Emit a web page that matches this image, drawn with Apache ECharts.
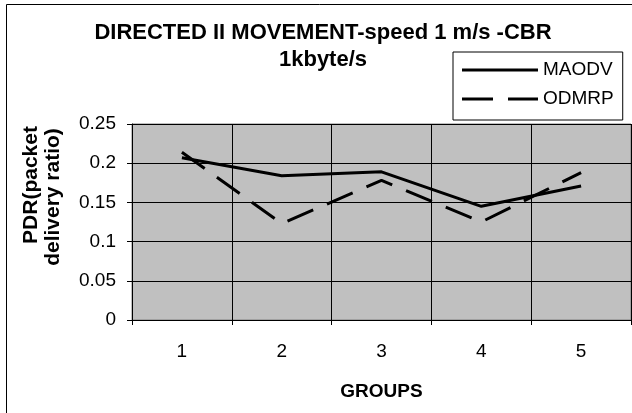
<!DOCTYPE html>
<html><head><meta charset="utf-8">
<script src="https://cdn.jsdelivr.net/npm/echarts@6/dist/echarts.min.js"></script>
<style>html,body{margin:0;padding:0;background:#fff}#c{width:632px;height:413px}</style>
</head><body><div id="c"></div>
<script>
const categories = ['1', '2', '3', '4', '5'];
const maodv = [0.207, 0.184, 0.189, 0.145, 0.171];
const odmrp = [0.214, 0.123, 0.178, 0.125, 0.188];
const yTicks = [0, 0.05, 0.1, 0.15, 0.2, 0.25];
const seriesNames = ['MAODV', 'ODMRP'];
const titleLines = ['DIRECTED II MOVEMENT-speed 1 m/s -CBR', '1kbyte/s'];
const yTitleLines = ['PDR(packet', 'delivery ratio)'];

const chart = echarts.init(document.getElementById('c'), null, {renderer: 'canvas'});
const F = 'Liberation Sans, Arial, sans-serif';
function txt(text, x, y, size, bold, rot) {
  return {type: 'text', x: x, y: y, rotation: rot || 0, silent: true, z: 10,
    style: {text: text, font: (bold ? 'bold ' : '') + size + 'px ' + F, fill: '#000',
      align: 'center', verticalAlign: 'middle', textAlign: 'center', textVerticalAlign: 'middle'}};
}
chart.setOption({
  animation: false,
  backgroundColor: '#fff',
  legend: {
    show: true, left: 453, top: 52, orient: 'vertical', itemGap: 9,
    padding: [8, 9, 11, 9], backgroundColor: '#fff', borderColor: '#000', borderWidth: 1, borderRadius: 0,
    itemWidth: 76, itemHeight: 3,
    textStyle: {fontFamily: F, fontSize: 19, color: '#000', lineHeight: 20},
    itemStyle: {color: '#000', borderWidth: 0},
    data: [
      {name: seriesNames[0], icon: 'path://M0,0H76V3H0Z', itemStyle: {color: '#000', borderWidth: 0}},
      {name: seriesNames[1], icon: 'path://M0,0H31V3H0Z M46,0H76V3H46Z', itemStyle: {color: '#000', borderWidth: 0}}
    ]
  },
  grid: {left: 132, right: 1, top: 124, bottom: 93, show: true, backgroundColor: '#c0c0c0', borderColor: '#808080', borderWidth: 1},
  xAxis: {
    type: 'category', data: categories, boundaryGap: true,
    name: 'GROUPS', nameLocation: 'middle', nameGap: 62,
    nameTextStyle: {fontFamily: F, fontSize: 19, fontWeight: 'bold', color: '#000'},
    axisLine: {lineStyle: {color: '#000', width: 1}},
    axisTick: {show: true, length: 5, lineStyle: {color: '#000'}},
    axisLabel: {fontFamily: F, fontSize: 19, color: '#000', margin: 22},
    splitLine: {show: true, lineStyle: {color: '#000', width: 1}}
  },
  yAxis: {
    type: 'value', min: 0, max: 0.25, interval: 0.05,
    axisLine: {show: true, lineStyle: {color: '#000'}},
    axisTick: {show: true, length: 5, lineStyle: {color: '#000'}},
    axisLabel: {fontFamily: F, fontSize: 19, color: '#000', margin: 16,
      formatter: v => { const t = yTicks.find(x => Math.abs(x - v) < 1e-9); return String(t); }},
    splitLine: {show: true, lineStyle: {color: '#000', width: 1}}
  },
  series: [
    {name: seriesNames[0], type: 'line', data: maodv, symbol: 'none', color: '#000',
     lineStyle: {color: '#000', width: 3, type: 'solid'}},
    {name: seriesNames[1], type: 'line', data: odmrp, symbol: 'none', color: '#000',
     lineStyle: {color: '#000', width: 3, type: [28, 15]}}
  ],
  graphic: [
    {type: 'rect', shape: {x: 6.5, y: 4.5, width: 640, height: 420}, style: {fill: 'none', stroke: '#000', lineWidth: 1}, silent: true, z: -1},
    txt(titleLines[0], 323, 33, 22, true),
    txt(titleLines[1], 323, 60, 22, true),
    txt(yTitleLines[0], 31, 185, 21, true, Math.PI / 2),
    txt(yTitleLines[1], 53, 197, 21, true, Math.PI / 2)
  ]
});
</script></body></html>
